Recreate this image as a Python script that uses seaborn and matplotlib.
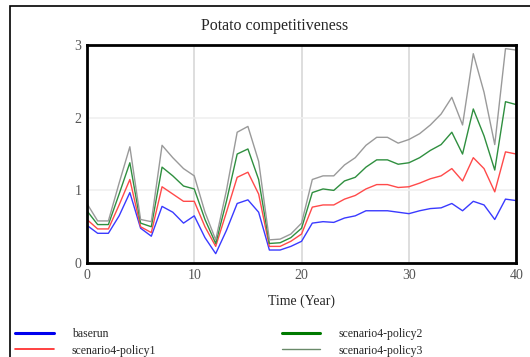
import pandas as pd
import matplotlib.pyplot as plt
import matplotlib.patches as mpatches
import seaborn as sns

# --- data ---
years = list(range(0, 41))
baserun = [0.52, 0.41, 0.41, 0.65, 0.97, 0.48, 0.37, 0.78, 0.70, 0.55, 0.65,
           0.35, 0.13, 0.45, 0.82, 0.87, 0.70, 0.18, 0.18, 0.23, 0.30,
           0.55, 0.57, 0.56, 0.62, 0.65, 0.72, 0.72, 0.72, 0.70, 0.68,
           0.72, 0.75, 0.76, 0.82, 0.72, 0.85, 0.80, 0.60, 0.88, 0.86]
policy1 = [0.60, 0.47, 0.47, 0.80, 1.15, 0.50, 0.42, 1.05, 0.95, 0.85, 0.85,
           0.50, 0.23, 0.70, 1.18, 1.25, 0.95, 0.23, 0.23, 0.30, 0.40,
           0.77, 0.80, 0.80, 0.88, 0.93, 1.02, 1.08, 1.08, 1.04, 1.05,
           1.10, 1.16, 1.20, 1.30, 1.13, 1.45, 1.30, 0.98, 1.53, 1.50]
policy2 = [0.72, 0.53, 0.53, 0.95, 1.38, 0.55, 0.50, 1.32, 1.20, 1.06, 1.02,
           0.60, 0.27, 0.85, 1.50, 1.57, 1.15, 0.27, 0.28, 0.35, 0.48,
           0.97, 1.02, 1.00, 1.13, 1.18, 1.32, 1.42, 1.42, 1.36, 1.38,
           1.45, 1.55, 1.63, 1.80, 1.50, 2.12, 1.75, 1.28, 2.22, 2.18]
policy3 = [0.82, 0.58, 0.58, 1.10, 1.60, 0.60, 0.57, 1.62, 1.45, 1.30, 1.20,
           0.70, 0.32, 1.00, 1.80, 1.88, 1.40, 0.32, 0.33, 0.40, 0.55,
           1.15, 1.20, 1.20, 1.35, 1.45, 1.62, 1.73, 1.73, 1.65, 1.70,
           1.78, 1.90, 2.05, 2.28, 1.90, 2.88, 2.35, 1.63, 2.95, 2.93]

series_names = ["baserun", "scenario4-policy1", "scenario4-policy2", "scenario4-policy3"]
series_values = [baserun, policy1, policy2, policy3]
series_colors = ["#3a3aff", "#ff4a4a", "#2f8f3f", "#9a9a9a"]
legend_colors = ["#0000ee", "#ff2020", "#007a00", "#6a8a6a"]
legend_widths = [2.2, 1.2, 2.2, 1.0]

df = pd.concat(
    [pd.DataFrame({"Time": years, "value": v, "run": n}) for n, v in zip(series_names, series_values)]
)

sns.set_style("white")
plt.rcParams["font.family"] = ["Liberation Serif", "DejaVu Serif"]

fig = plt.figure(figsize=(5.3, 3.57), dpi=100)
ax = fig.add_axes([0.164, 0.263, 0.810, 0.611])

sns.lineplot(data=df, x="Time", y="value", hue="run", palette=series_colors,
             linewidth=1.0, ax=ax, legend=False)

ax.set_xlim(0, 40)
ax.set_ylim(0, 3)
ax.set_xticks([0, 10, 20, 30, 40])
ax.set_yticks([0, 1, 2, 3])
ax.grid(axis="x", color="#d8d8d8", linewidth=1.2)
ax.grid(axis="y", color="#f0f0f0", linewidth=1.2)
ax.tick_params(length=0, labelsize=10, labelcolor="#555555", pad=4)
for s in ax.spines.values():
    s.set_linewidth(2.0)
    s.set_color("black")
ax.set_xlabel("Time (Year)", fontsize=10, labelpad=9)
ax.set_ylabel("")
fig.text(0.518, 0.927, "Potato competitiveness", ha="center", va="center", fontsize=11.5)

# legend under the axis, two columns
handles = [plt.Line2D([], [], color=c, linewidth=w) for c, w in zip(legend_colors, legend_widths)]
fig.legend(handles, series_names, loc="lower left", bbox_to_anchor=(0.02, -0.012), ncol=2,
           frameon=False, fontsize=8.5, handlelength=3.3, handletextpad=1.5,
           columnspacing=10.6, labelspacing=0.35, borderaxespad=0)

# outer frame round the figure
fig.patches.append(mpatches.Rectangle((0.019, -0.1), 1.2, 1.083, transform=fig.transFigure,
                                      fill=False, edgecolor="black", linewidth=1.2))

fig.savefig("out.png", dpi=100)
